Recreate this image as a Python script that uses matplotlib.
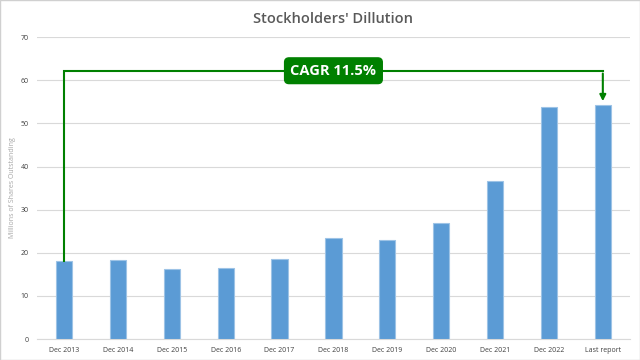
import matplotlib
matplotlib.use("Agg")
import matplotlib.pyplot as plt
from matplotlib.patches import FancyArrowPatch

# data
labels = ["Dec 2013", "Dec 2014", "Dec 2015", "Dec 2016", "Dec 2017", "Dec 2018",
          "Dec 2019", "Dec 2020", "Dec 2021", "Dec 2022", "Last report"]
shares = [18.1, 18.3, 16.2, 16.4, 18.5, 23.5, 23.0, 26.9, 36.7, 53.8, 54.2]
yticks = [0, 10, 20, 30, 40, 50, 60, 70]
cagr_text = "CAGR 11.5%"
cagr_level = 62.2

plt.rcParams['font.family'] = ['Open Sans', 'DejaVu Sans']

fig = plt.figure(figsize=(6.4, 3.6), dpi=100)
ax = fig.add_axes([0.058, 0.058, 0.926, 0.839])

x = list(range(len(labels)))
ax.bar(x, shares, width=0.3, color='#5B9BD5', edgecolor='#9DC3E6', linewidth=0.8, zorder=3)

ax.set_xlim(-0.5, len(labels) - 0.5)
ax.set_ylim(0, 70)
ax.set_yticks(yticks)
ax.set_xticks(x)
ax.set_xticklabels(labels)
ax.tick_params(axis='both', length=0, labelsize=5, labelcolor='#404040', pad=6)
ax.grid(axis='y', color='#D9D9D9', linewidth=0.8, zorder=0)
for s in ['top', 'right', 'left']:
    ax.spines[s].set_visible(False)
ax.spines['bottom'].set_color('#D9D9D9')
ax.set_ylabel("Millions of Shares Outstanding", fontsize=5, color='#A6A6A6', labelpad=3)
ax.set_title("Stockholders' Dillution", fontsize=10.5, fontweight='semibold', color='#595959', pad=10)

# CAGR annotation
green = '#008000'
ax.plot([x[0], x[0], x[-1]], [shares[0], cagr_level, cagr_level], color=green, lw=1.5, zorder=4,
        solid_joinstyle='miter')
arrow = FancyArrowPatch((x[-1], cagr_level), (x[-1], shares[-1] + 0.3), arrowstyle='-|>',
                        mutation_scale=9, color=green, lw=1.5, zorder=4)
ax.add_patch(arrow)
ax.text(5, cagr_level, cagr_text, ha='center', va='center', fontsize=10.5, fontweight='bold',
        color='white', zorder=5,
        bbox=dict(boxstyle='round,pad=0.4,rounding_size=0.3', fc=green, ec=green))

fig.patches.append(plt.Rectangle((0, 0), 1, 1, transform=fig.transFigure, fill=False,
                                 edgecolor='#D0D0D0', linewidth=1))

fig.savefig("out.png", dpi=100)
